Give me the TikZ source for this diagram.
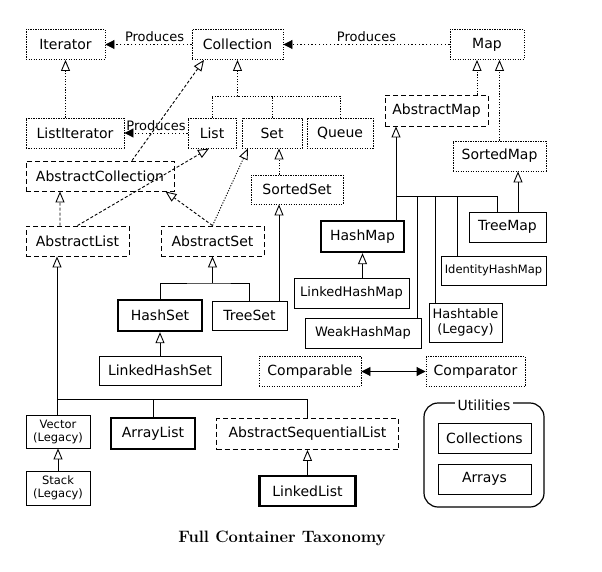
\documentclass[tikz,border=0pt]{standalone}
\usepackage{fontspec}
\newfontfamily\boxfont{DejaVu Sans}
\usetikzlibrary{arrows.meta}

\tikzset{
    box/.style={draw, line width=0.9pt, inner sep=2bp, minimum height=30bp,
        font=\boxfont\fontsize{14bp}{16bp}\selectfont},
    mid/.style={font=\boxfont\fontsize{13bp}{15bp}\selectfont},
    small/.style={font=\boxfont\fontsize{11.5bp}{13bp}\selectfont},
    iface/.style={box, dash pattern=on 1.2bp off 1.3bp},
    abstr/.style={box, dash pattern=on 5bp off 3bp},
    cls/.style={box},
    hot/.style={box, line width=2.4pt},
    % connectors
    ext/.style={line width=0.9pt, -{Triangle[open, length=11bp, width=9bp]}},
    extline/.style={line width=0.9pt},
    real/.style={ext, dash pattern=on 1.2bp off 1.5bp},
    areal/.style={ext, dash pattern=on 3bp off 2bp},
    dotline/.style={line width=0.9pt, dash pattern=on 1.2bp off 1.5bp},
    prod/.style={line width=0.9pt, dash pattern=on 1.2bp off 2.5bp, -{Triangle[length=9bp, width=9bp]}},
    prodlbl/.style={font=\boxfont\fontsize{13bp}{15bp}\selectfont, inner sep=2bp},
    both/.style={line width=0.9pt, {Triangle[length=9bp, width=9bp]}-{Triangle[length=9bp, width=9bp]}}
}

\begin{document}
\begin{tikzpicture}[x=1bp, y=-1bp]
    \useasboundingbox (0,0) rectangle (602,572);

    % Interfaces (top)
    \node[iface, minimum width=79bp] (iter) at (65.5,44.5) {Iterator};
    \node[iface, minimum width=91bp] (coll) at (237.5,44.5) {Collection};
    \node[iface, minimum width=74bp] (map) at (487,44.5) {Map};
    \node[iface, minimum width=98bp] (lit) at (75,133) {ListIterator};
    \node[iface, minimum width=48bp] (list) at (212,133) {List};
    \node[iface, minimum width=60bp] (set) at (272,133) {Set};
    \node[iface, minimum width=66bp] (queue) at (340,133) {Queue};
    \node[abstr, minimum width=103bp, minimum height=31bp] (amap) at (436.5,110.5) {AbstractMap};
    \node[iface, minimum width=93bp] (smap) at (499.5,156) {SortedMap};
    \node[abstr, minimum width=148bp] (acoll) at (100,176) {AbstractCollection};
    \node[iface, minimum width=92bp, minimum height=29bp] (sset) at (297,189.5) {SortedSet};
    \node[abstr, minimum width=103bp] (alist) at (77.5,241) {AbstractList};
    \node[abstr, minimum width=103bp] (aset) at (212.5,241) {AbstractSet};

    % Maps
    \node[hot, minimum width=83bp, minimum height=31bp] (hmap) at (362.5,236.5) {HashMap};
    \node[cls, minimum width=77bp] (tmap) at (507.5,227) {TreeMap};
    \node[cls, small, minimum width=105bp, minimum height=29bp] (ihmap) at (493.5,270.5) {IdentityHashMap};
    \node[cls, mid, minimum width=115bp] (lhmap) at (351.5,293) {LinkedHashMap};
    \node[cls, mid, minimum width=73bp, minimum height=39bp, align=center] (htab) at (465.5,322.5) {Hashtable\\(Legacy)};
    \node[cls, mid, minimum width=116bp] (whmap) at (363,333) {WeakHashMap};

    % Sets
    \node[hot, minimum width=84bp, minimum height=31bp] (hset) at (160,315.5) {HashSet};
    \node[cls, minimum width=75bp, minimum height=29bp] (tset) at (249.5,315.5) {TreeSet};
    \node[cls, minimum width=122bp, minimum height=29bp] (lhset) at (160,370.5) {LinkedHashSet};

    % Comparison interfaces
    \node[iface, minimum width=102bp] (cmpl) at (310,371.5) {Comparable};
    \node[iface, minimum width=99bp] (cmpr) at (475.5,371.5) {Comparator};

    % Lists
    \node[cls, small, minimum width=64bp, minimum height=33bp, align=center] (vec) at (58,431.5) {Vector\\(Legacy)};
    \node[hot, minimum width=84bp, minimum height=31bp] (alst) at (153,433.5) {ArrayList};
    \node[abstr, minimum width=182bp, minimum height=31bp] (asl) at (307.5,434) {AbstractSequentialList};
    \node[cls, small, minimum width=64bp, minimum height=34bp, align=center] (stack) at (58,488) {Stack\\(Legacy)};
    \node[hot, minimum width=96bp] (llist) at (307.5,491) {LinkedList};

    % Utilities
    \node[draw, line width=1.2pt, rounded corners=14bp, minimum width=120bp, minimum height=104bp] (util) at (484,455) {};
    \node[fill=white, inner sep=3bp, font=\boxfont\fontsize{14bp}{16bp}\selectfont] (utl) at ([yshift=-3bp]util.north) {Utilities};
    \node[cls, minimum width=93bp] (colls) at (484.5,438.5) {Collections};
    \node[cls, minimum width=93bp] (arrs) at (484.5,479) {Arrays};

    % Title
    \node[font=\bfseries\fontsize{16.5bp}{18bp}\selectfont] (title) at (282,538) {Full Container Taxonomy};

    % Produces
    \draw[prod] (coll) -- node[above, prodlbl, pos=0.43] (p1) {Produces} (iter);
    \draw[prod] (map) -- node[above, prodlbl] (p2) {Produces} (coll);
    \draw[prod] (list) -- node[above, prodlbl] (p3) {Produces} (lit);

    % Iterator and Collection hierarchy
    \draw[real] (lit.north -| iter.south) -- (iter.south);
    \coordinate (cbus) at (237.5,96);
    \draw[real] (cbus) -- (coll.south);
    \draw[dotline] (list.north) |- (cbus) -| (queue.north);
    \draw[dotline] (set.north) -- (set.north |- cbus);
    \draw[areal] ([xshift=32bp]acoll.north) -- ([xshift=-33.5bp]coll.south);
    \draw[areal] (alist.north) -- ([xshift=-3bp]list.south);
    \draw[areal] ([xshift=-17.5bp]alist.north) -- ([xshift=-40bp]acoll.south);
    \draw[areal] (aset.north) -- ([xshift=-9bp]acoll.south east);
    \draw[real] (aset.north) -- ([xshift=-24bp]set.south);

    % Set implementations
    \coordinate (ssx) at (279,0);
    \draw[real] (ssx |- sset.north) -- (ssx |- set.south);
    \draw[ext] (ssx |- tset.north) -- (ssx |- sset.south);
    \coordinate (sbus) at (212.5,283);
    \draw[ext] (sbus) -- (aset.south);
    \draw[extline] (hset.north) |- (sbus) -| (tset.north);
    \draw[ext] (lhset) -- (hset);

    % Map implementations
    \coordinate (amx) at (477,0);
    \draw[real] (amx |- amap.north) -- (amx |- map.south);
    \draw[real] (smap.north) -- (smap.north |- map.south);
    \coordinate (tmx) at (518,0);
    \draw[ext] (tmx |- tmap.north) -- (tmx |- smap.south);
    \coordinate (mbus) at (396,196);
    \coordinate (mend) at (497,196);
    \draw[ext] (mbus) -- (mbus |- amap.south);
    \draw[extline] (mbus |- hmap.north) -- (mbus) -- (mend) -- (mend |- tmap.north);
    \foreach \x/\n in {417/whmap, 435/htab, 457/ihmap} {
        \coordinate (mb) at (\x,196);
        \draw[extline] (mb) -- (mb |- \n.north);
    }
    \draw[ext] (hmap.south |- lhmap.north) -- (hmap.south);

    % Comparable / Comparator
    \draw[both] (cmpl) -- (cmpr);

    % List implementations
    \coordinate (lbus) at (57,399);
    \draw[ext] (lbus) -- (lbus |- alist.south);
    \draw[extline] (lbus |- vec.north) -- (lbus) -| (asl.north);
    \draw[extline] (alst.north) -- (alst.north |- lbus);
    \draw[ext] (stack) -- (vec);
    \draw[ext] (llist) -- (asl);

\end{tikzpicture}
\end{document}
